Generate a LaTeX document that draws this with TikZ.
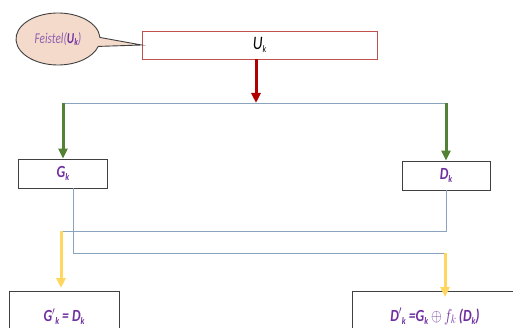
\documentclass[tikz,border=0pt]{standalone}
\usepackage{fontspec}
\usepackage{graphicx}
\setmainfont{Carlito}
\usetikzlibrary{arrows.meta,shapes.callouts,calc}

\definecolor{lblpurple}{HTML}{7030A0}
\definecolor{softpurple}{HTML}{9060B0}
\definecolor{boxred}{HTML}{C0504D}
\definecolor{arrred}{HTML}{B00000}
\definecolor{arrgreen}{HTML}{548235}
\definecolor{arryellow}{HTML}{FFD75E}
\definecolor{wire}{HTML}{8AA4C0}
\definecolor{edge}{HTML}{404040}
\definecolor{bubble}{HTML}{F3DACB}

% subscripted label, e.g. G with index k
\newcommand{\subl}[2]{#1\raisebox{-0.35ex}{\fontsize{10}{10}\selectfont #2}}
% horizontally condensed text
\newcommand{\narrowtxt}[1]{\scalebox{0.8}[1]{#1}}

\tikzset{
  blk/.style={draw=edge, line width=0.9pt, fill=white, inner sep=0pt},
  lbl/.style={font=\fontsize{17}{17}\selectfont\bfseries\itshape, text=lblpurple},
  wireline/.style={draw=wire, line width=0.9pt},
  thickarrow/.style={line width=3pt, -{Triangle[width=9pt,length=10pt]}},
}

\begin{document}
\begin{tikzpicture}[x=1pt,y=-1pt]
  \useasboundingbox (0,0) rectangle (513,328);
  \clip (0,0) rectangle (513,328);

  % input block
  \node[blk, draw=boxred, minimum width=235pt, minimum height=28pt,
        font=\fontsize{19}{19}\selectfont\itshape] (uk) at (259.5,45) {\narrowtxt{\subl{U}{k}}};

  % speech bubble naming the round
  \node[ellipse callout, draw=edge, line width=0.9pt, fill=bubble,
        minimum width=84pt, minimum height=52pt, inner sep=0pt,
        callout absolute pointer={(uk.west)}, callout pointer arc=20,
        font=\fontsize{15}{15}\selectfont\itshape, text=softpurple] (fs) at (58,39)
        {\scalebox{0.75}[1]{Feistel({\bfseries\color{lblpurple}\subl{U}{k}})}};

  % halves
  \node[blk, lbl, minimum width=89pt, minimum height=29pt] (gk) at (63,173.5) {\narrowtxt{\subl{G}{k}}};
  \node[blk, lbl, minimum width=88pt, minimum height=29pt] (dk) at (446,175.5) {\narrowtxt{\subl{D}{k}}};

  % outputs
  \node[blk, lbl, minimum width=110pt, minimum height=50pt, anchor=north] (gpk) at (64,291)
        {\raisebox{-4pt}{\narrowtxt{\subl{G$'$}{k} = \subl{D}{k}}}};
  \node[blk, lbl, minimum width=166pt, minimum height=50pt, anchor=north] (dpk) at (435,291)
        {\raisebox{-4pt}{\narrowtxt{\subl{D$'$}{k} =\subl{G}{k} $\oplus$\,$f_{k}$\,(\subl{D}{k})}}};

  % split point and routing corners
  \coordinate (split) at (256,103);
  \coordinate (gdown) at (73,253);
  \coordinate (gright) at (445,253);
  \coordinate (ddown) at (446,231);
  \coordinate (dleft) at (61,231);

  % split of the input
  \draw[wireline] (gk.north |- split) -- (dk.north |- split);
  \draw[thickarrow, arrred] (uk.south -| split) -- (split);
  \draw[thickarrow, arrgreen] (gk.north |- split) -- (gk.north);
  \draw[thickarrow, arrgreen] (dk.north |- split) -- (dk.north);

  % crossing of the halves
  \draw[wireline] (gk.south -| gdown) -- (gdown) -- (gright);
  \draw[wireline] (dk.south -| ddown) -- (ddown) -- (dleft);
  \draw[thickarrow, arryellow] (dleft) -- ($(gpk.north -| dleft)+(0,-3)$);
  \draw[thickarrow, arryellow] (gright) -- ($(dpk.north -| gright)+(0,6)$);
\end{tikzpicture}
\end{document}
